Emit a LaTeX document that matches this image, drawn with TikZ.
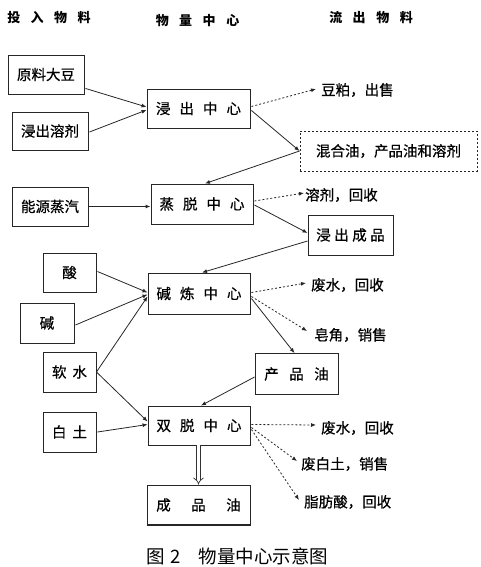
\documentclass[tikz,border=0pt]{standalone}
\usepackage{fontspec}
\setmainfont{Noto Sans CJK SC}
\newfontfamily\boxfont[FakeBold=0.6]{Noto Sans CJK SC}
\usetikzlibrary{arrows.meta,calc}
\newcommand\gp[1]{\hspace{#1pt}}
\begin{document}
\begin{tikzpicture}[x=1pt,y=-1pt,
  box/.style={draw=black!85, line width=0.9pt, inner sep=0pt, fill=white,
    font=\boxfont\fontsize{14.5}{14.5}\selectfont},
  lbl/.style={inner sep=0pt, anchor=west, font=\boxfont\fontsize{14.5}{14.5}\selectfont},
  hdr/.style={inner sep=0pt, font=\fontsize{13}{13}\selectfont\bfseries},
  flow/.style={draw=black!85, line width=0.8pt, -{Latex[length=5pt,width=4pt]}},
  dflow/.style={flow, dash pattern=on 2pt off 2pt},
]
\useasboundingbox (0,0) rectangle (480,567);

% headers
\node[hdr] (h1) at (49,18) {投\gp{10.5}入\gp{10.5}物\gp{10.5}料};
\node[hdr] (h2) at (197.5,21) {物\gp{10.5}量\gp{10.5}中\gp{10.5}心};
\node[hdr] (h3) at (371,18) {流\gp{10.5}出\gp{10.5}物\gp{10.5}料};

% input boxes
\node[box, minimum width=76pt, minimum height=39pt] (src1) at (46,74.5) {原料大豆};
\node[box, minimum width=76pt, minimum height=38pt] (src2) at (50,131) {浸出溶剂};
\node[box, minimum width=76pt, minimum height=39pt] (steam) at (50,206.5) {能源蒸汽};
\node[box, minimum width=53pt, minimum height=39pt] (acid) at (69.5,272.5) {酸};
\node[box, minimum width=54pt, minimum height=40pt] (alkali) at (47,323) {碱};
\node[box, minimum width=53pt, minimum height=40pt] (water) at (69.5,372) {软\gp{6}水};
\node[box, minimum width=53pt, minimum height=40pt] (clay) at (69.5,432) {白\gp{6}土};

% centres
\node[box, minimum width=103pt, minimum height=39pt] (c1) at (198.5,108.5) {浸\gp{9}出\gp{9}中\gp{9}心};
\node[box, minimum width=102pt, minimum height=40pt] (c2) at (202,204) {蒸\gp{9}脱\gp{9}中\gp{9}心};
\node[box, minimum width=102pt, minimum height=41pt] (c3) at (199,293.5) {碱\gp{9}炼\gp{9}中\gp{9}心};
\node[box, minimum width=102pt, minimum height=39pt] (c4) at (199,425.5) {双\gp{9}脱\gp{9}中\gp{9}心};
\node[box, minimum width=103pt, minimum height=40pt] (final) at (198.5,505) {成\gp{20.5}品\gp{20.5}油};
\draw[line width=2pt, black!85] (final.south west) -- (final.south east);

% output boxes
\node[box, dash pattern=on 2pt off 2pt, minimum width=177pt, minimum height=40pt] (mix) at (388.5,151) {混合油，产品油和溶剂};
\node[box, minimum width=85pt, minimum height=40pt] (prod1) at (350.5,235) {浸\gp{3.5}出\gp{3.5}成\gp{3.5}品};
\node[box, minimum width=83pt, minimum height=41pt] (oil) at (296.5,374) {产\gp{10.5}品\gp{10.5}油};

% output labels
\node[lbl] (out1) at (321,90) {豆粕，出售};
\node[lbl] (out2) at (305,195) {溶剂，回收};
\node[lbl] (out3) at (311,285) {废水，回收};
\node[lbl] (out4) at (314,335) {皂角，销售};
\node[lbl] (out5) at (321,428) {废水，回收};
\node[lbl] (out6) at (301,464) {废白土，销售};
\node[lbl] (out7) at (304,502) {脂肪酸，回收};

% connectors
\draw[flow] ($(src1.south east)+(1,-6)$) -- ($(c1.west)+(0,-1.5)$);
\draw[flow] ($(src2.east)+(1,1)$) -- ($(c1.west)+(0,1.5)$);
\draw[dflow] ($(c1.east)+(1,-2)$) -- ($(out1.west)+(-5,-1)$);
\draw[flow] ($(c1.east)+(1,2)$) -- (mix.west);
\draw[flow] (mix.west) -- ($(c2.north)+(3,0)$);
\draw[flow, line width=1.4pt] (steam.east) -- (steam.east -| c2.west);
\draw[dflow] ($(c2.east)+(1,-3)$) -- ($(out2.west)+(-1,-2)$);
\draw[flow] ($(c2.east)+(1,1)$) -- ($(prod1.west)+(0,-2)$);
\draw[flow] ($(prod1.west)+(0,6)$) -- ($(c3.north)+(3,0)$);
\draw[flow] ($(acid.east)+(1,-1)$) -- ($(c3.west)+(0,-1)$);
\draw[flow] ($(alkali.east)+(1,2)$) -- ($(c3.west)+(0,1)$);
\draw[flow] (water.east) -- ($(c3.west)+(0,3)$);
\draw[flow] (water.east) -- ($(c4.west)+(0,-4)$);
\draw[flow] ($(clay.east)+(1,0)$) -- ($(c4.west)+(0,-1)$);
\draw[dflow] ($(c3.east)+(1,-1)$) -- ($(out3.west)+(-5,-2)$);
\draw[dflow] ($(c3.east)+(1,3)$) -- ($(out4.west)+(-7,-4)$);
\draw[flow] ($(c3.east)+(1,5)$) -- ($(oil.north)+(-2,0)$);
\draw[flow] ($(oil.west)+(0,3)$) -- ($(c4.north)+(2,0)$);
\draw[dflow] ($(c4.east)+(1,-1)$) -- ($(out5.west)+(-5,-3)$);
\draw[dflow] ($(c4.east)+(1,2)$) -- ($(out6.west)+(-4,-3)$);
\draw[dflow] ($(c4.east)+(1,4)$) -- ($(out7.west)+(-5,-2)$);
\draw[black!80, line width=0.7pt, double, double distance=3pt, -{Implies[length=5pt]}] (c4.south -| final.north) -- (final.north);

% caption
\node[inner sep=0pt, anchor=west, font=\fontsize{18.5}{18.5}\selectfont] (cap) at (146,556) {图\gp{6}2\gp{18}物量中心示意图};
\end{tikzpicture}
\end{document}
